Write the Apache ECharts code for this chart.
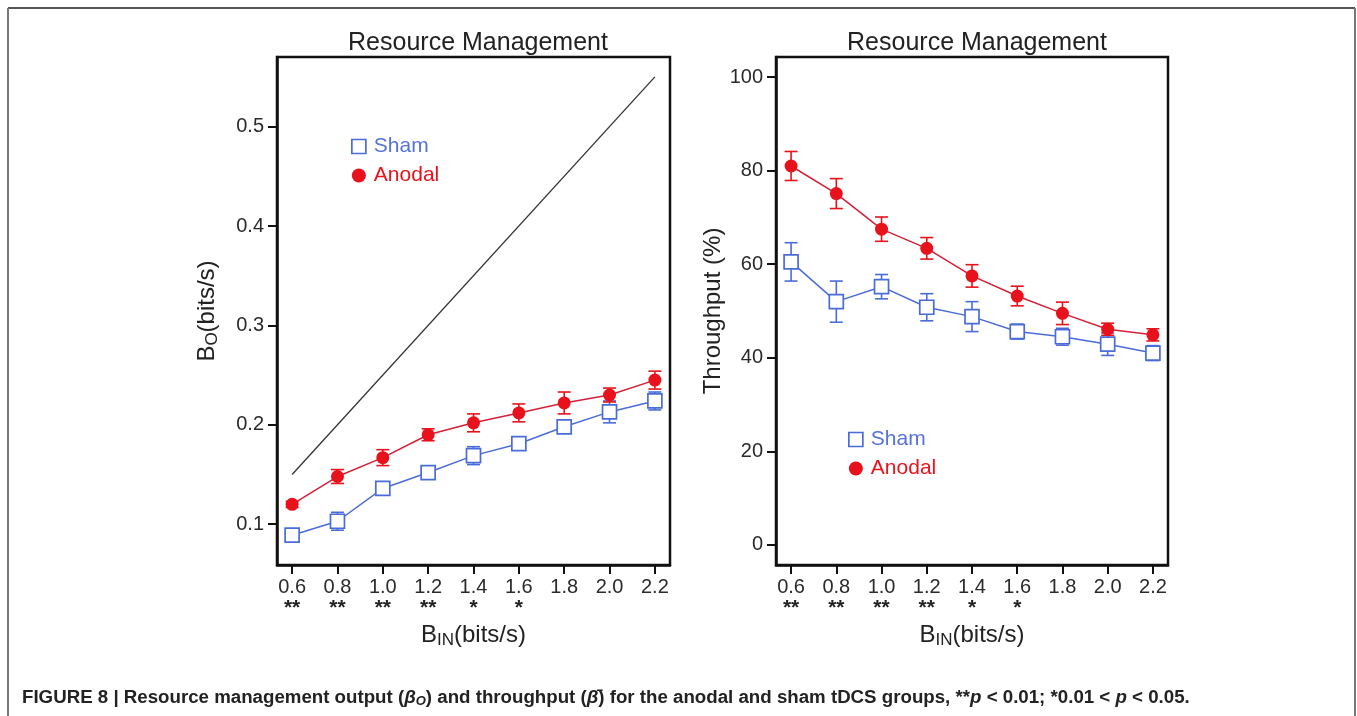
<!DOCTYPE html>
<html><head><meta charset="utf-8">
<script src="https://cdn.jsdelivr.net/npm/echarts@6/dist/echarts.min.js"></script>
<style>html,body{margin:0;padding:0;background:#fff}#c{width:1357px;height:716px}</style>
</head><body><div id="c"></div>
<script>
// ---- data ----
const xValues = [0.6, 0.8, 1.0, 1.2, 1.4, 1.6, 1.8, 2.0, 2.2];
const xTickLabels = ['0.6', '0.8', '1.0', '1.2', '1.4', '1.6', '1.8', '2.0', '2.2'];
const sigMarks = ['**', '**', '**', '**', '*', '*', '', '', ''];
const outTicks = [0.1, 0.2, 0.3, 0.4, 0.5];
const thrTicks = [0, 20, 40, 60, 80, 100];

const outSham = [0.089, 0.103, 0.136, 0.152, 0.169, 0.181, 0.198, 0.213, 0.224];
const outShamErr = [0.003, 0.009, 0.004, 0.006, 0.009, 0.005, 0.006, 0.011, 0.009];
const outAnodal = [0.120, 0.148, 0.167, 0.190, 0.202, 0.212, 0.222, 0.230, 0.245];
const outAnodalErr = [0.003, 0.007, 0.008, 0.006, 0.009, 0.009, 0.011, 0.007, 0.009];
const refX = [0.6, 2.2];
const refY = [0.15, 0.55];

const thrSham = [60.5, 52.0, 55.2, 50.8, 48.8, 45.6, 44.5, 42.9, 41.0];
const thrShamErr = [4.1, 4.4, 2.6, 2.9, 3.2, 1.6, 1.8, 2.4, 1.6];
const thrAnodal = [81.0, 75.1, 67.5, 63.4, 57.5, 53.2, 49.5, 46.1, 44.9];
const thrAnodalErr = [3.1, 3.2, 2.6, 2.3, 2.4, 2.1, 2.4, 1.3, 1.3];

// ---- style ----
const BLUE = '#4a6cd8';
const BLUE_TXT = '#5672dc';
const RED = '#e8121c';
const RED_LINE = '#d42038';
const FONT = 'Liberation Sans';

function pairs(v) { return xValues.map((x, i) => [x, v[i]]); }
function errData(v, e) { return xValues.map((x, i) => [x, v[i] - e[i], v[i] + e[i]]); }
function errRender(color) {
  return function (params, api) {
    const x = api.value(0), lo = api.value(1), hi = api.value(2);
    const p1 = api.coord([x, hi]), p2 = api.coord([x, lo]);
    const hw = 6.5, st = { stroke: color, lineWidth: 1.6 };
    return { type: 'group', children: [
      { type: 'line', shape: { x1: p1[0], y1: p1[1], x2: p2[0], y2: p2[1] }, style: st },
      { type: 'line', shape: { x1: p1[0] - hw, y1: p1[1], x2: p1[0] + hw, y2: p1[1] }, style: st },
      { type: 'line', shape: { x1: p2[0] - hw, y1: p2[1], x2: p2[0] + hw, y2: p2[1] }, style: st }
    ]};
  };
}
function xLabelFmt(val) {
  const i = xValues.findIndex(x => Math.abs(x - val) < 1e-6);
  if (i < 0) return '';
  return xTickLabels[i] + '\n{s|' + (sigMarks[i] || ' ') + '}';
}
const PAD = 0.0667;
function xAxisCfg(gi) {
  return {
    type: 'value', gridIndex: gi, min: xValues[0] - PAD, max: xValues[xValues.length - 1] + PAD,
    name: '{b|B}{sub|IN}{b|(bits/s)}', nameLocation: 'middle', nameGap: 41,
    nameTextStyle: { rich: {
      b: { fontFamily: FONT, fontSize: 24, color: '#222' },
      sub: { fontFamily: FONT, fontSize: 17, color: '#222', padding: [10, 0, 0, 0] }
    } },
    axisLine: { show: true, onZero: false, lineStyle: { color: '#111', width: 2.5 } },
    axisTick: { show: true, length: 9, lineStyle: { color: '#111', width: 2 }, customValues: xValues },
    axisLabel: { customValues: xValues, formatter: xLabelFmt, margin: 12, color: '#2a2a2a', fontFamily: FONT, fontSize: 20, lineHeight: 21,
      rich: { s: { fontFamily: FONT, fontSize: 21, fontWeight: 'bold', color: '#222', lineHeight: 18, padding: [2, 0, 0, 0] } } },
    splitLine: { show: false }
  };
}
function yAxisCfg(gi, min, max, ticks, name, gap, rich) {
  return {
    type: 'value', gridIndex: gi, min: min, max: max, name: name, nameLocation: 'middle', nameGap: gap,
    nameTextStyle: rich ? { rich: rich } : { fontFamily: FONT, fontSize: 24, color: '#222' },
    axisLine: { show: true, onZero: false, lineStyle: { color: '#111', width: 2.5 } },
    axisTick: { show: true, length: 9, lineStyle: { color: '#111', width: 2 }, customValues: ticks },
    axisLabel: { customValues: ticks, margin: 13, color: '#2a2a2a', fontFamily: FONT, fontSize: 20 },
    splitLine: { show: false }
  };
}
const shamItem = { color: '#fff', borderColor: BLUE, borderWidth: 1.7 };
const anodalItem = { color: RED };
function legendCfg(left, top) {
  return {
    left: left, top: top, orient: 'vertical', itemWidth: 14, itemHeight: 14, itemGap: 8,
    textStyle: { fontFamily: FONT, fontSize: 21, padding: [0, 0, 0, 3] },
    data: [
      { name: 'Sham', icon: 'rect', itemStyle: shamItem, textStyle: { color: BLUE_TXT } },
      { name: 'Anodal', icon: 'circle', itemStyle: anodalItem, textStyle: { color: RED } }
    ]
  };
}

const option = {
  backgroundColor: '#fff',
  animation: false,
  title: [
    { text: 'Resource Management', left: 473, top: 26, textAlign: 'center', textStyle: { fontFamily: FONT, fontSize: 25, fontWeight: 'normal', color: '#222' } },
    { text: 'Resource Management', left: 972, top: 26, textAlign: 'center', textStyle: { fontFamily: FONT, fontSize: 25, fontWeight: 'normal', color: '#222' } }
  ],
  grid: [
    { left: 277, top: 57, width: 393, height: 508, show: true, borderColor: '#111', borderWidth: 2.5, backgroundColor: '#fff' },
    { left: 776, top: 57, width: 392, height: 508, show: true, borderColor: '#111', borderWidth: 2.5, backgroundColor: '#fff' }
  ],
  legend: [legendCfg(346, 131), legendCfg(843, 424)],
  xAxis: [xAxisCfg(0), xAxisCfg(1)],
  yAxis: [
    yAxisCfg(0, 0.059, 0.57, outTicks, '{b|B}{sub|O}{b|(bits/s)}', 56, {
      b: { fontFamily: FONT, fontSize: 24, color: '#222' },
      sub: { fontFamily: FONT, fontSize: 17, color: '#222', padding: [10, 0, 0, 0] }
    }),
    yAxisCfg(1, -4.3, 104.3, thrTicks, 'Throughput (%)', 50, null)
  ],
  series: [
    { type: 'line', name: 'ref', xAxisIndex: 0, yAxisIndex: 0, data: refX.map((x, i) => [x, refY[i]]), symbol: 'none', lineStyle: { color: '#333', width: 1.3 }, silent: true },
    { type: 'custom', name: 'Sham', xAxisIndex: 0, yAxisIndex: 0, data: errData(outSham, outShamErr), renderItem: errRender(BLUE), encode: { x: 0, y: [1, 2] }, z: 3 },
    { type: 'custom', name: 'Anodal', xAxisIndex: 0, yAxisIndex: 0, data: errData(outAnodal, outAnodalErr), renderItem: errRender(RED), encode: { x: 0, y: [1, 2] }, z: 3 },
    { type: 'line', name: 'Sham', xAxisIndex: 0, yAxisIndex: 0, data: pairs(outSham), symbol: 'rect', symbolSize: 14, itemStyle: shamItem, lineStyle: { color: BLUE, width: 1.5 }, z: 4 },
    { type: 'line', name: 'Anodal', xAxisIndex: 0, yAxisIndex: 0, data: pairs(outAnodal), symbol: 'circle', symbolSize: 13, itemStyle: anodalItem, lineStyle: { color: RED_LINE, width: 1.5 }, z: 5 },
    { type: 'custom', name: 'Sham', xAxisIndex: 1, yAxisIndex: 1, data: errData(thrSham, thrShamErr), renderItem: errRender(BLUE), encode: { x: 0, y: [1, 2] }, z: 3 },
    { type: 'custom', name: 'Anodal', xAxisIndex: 1, yAxisIndex: 1, data: errData(thrAnodal, thrAnodalErr), renderItem: errRender(RED), encode: { x: 0, y: [1, 2] }, z: 3 },
    { type: 'line', name: 'Sham', xAxisIndex: 1, yAxisIndex: 1, data: pairs(thrSham), symbol: 'rect', symbolSize: 14, itemStyle: shamItem, lineStyle: { color: BLUE, width: 1.5 }, z: 4 },
    { type: 'line', name: 'Anodal', xAxisIndex: 1, yAxisIndex: 1, data: pairs(thrAnodal), symbol: 'circle', symbolSize: 13, itemStyle: anodalItem, lineStyle: { color: RED_LINE, width: 1.5 }, z: 5 }
  ],
  graphic: [
    { type: 'line', shape: { x1: 8, y1: 8, x2: 1355, y2: 8 }, style: { stroke: '#555', lineWidth: 2 } },
    { type: 'line', shape: { x1: 8, y1: 8, x2: 8, y2: 716 }, style: { stroke: '#777', lineWidth: 2 } },
    { type: 'line', shape: { x1: 1355, y1: 8, x2: 1355, y2: 716 }, style: { stroke: '#777', lineWidth: 2 } },
    { type: 'text', left: 22, top: 688, style: {
      text: '{b|FIGURE 8 | Resource management output (}{i|β}{sub|O}{b|) and throughput (}{i|β̄}{b|) for the anodal and sham tDCS groups, **}{i|p}{b| < 0.01; *0.01 < }{i|p}{b| < 0.05.}',
      rich: {
        b: { fontFamily: FONT, fontSize: 18.7, fontWeight: 'bold', fill: '#222' },
        i: { fontFamily: FONT, fontSize: 18.7, fontWeight: 'bold', fontStyle: 'italic', fill: '#222' },
        sub: { fontFamily: FONT, fontSize: 13, fontWeight: 'bold', fontStyle: 'italic', fill: '#222', padding: [8, 0, 0, 0] }
      }
    } }
  ]
};
const chart = echarts.init(document.getElementById('c'), null, { renderer: 'canvas' });
chart.setOption(option);
</script>
</body></html>
